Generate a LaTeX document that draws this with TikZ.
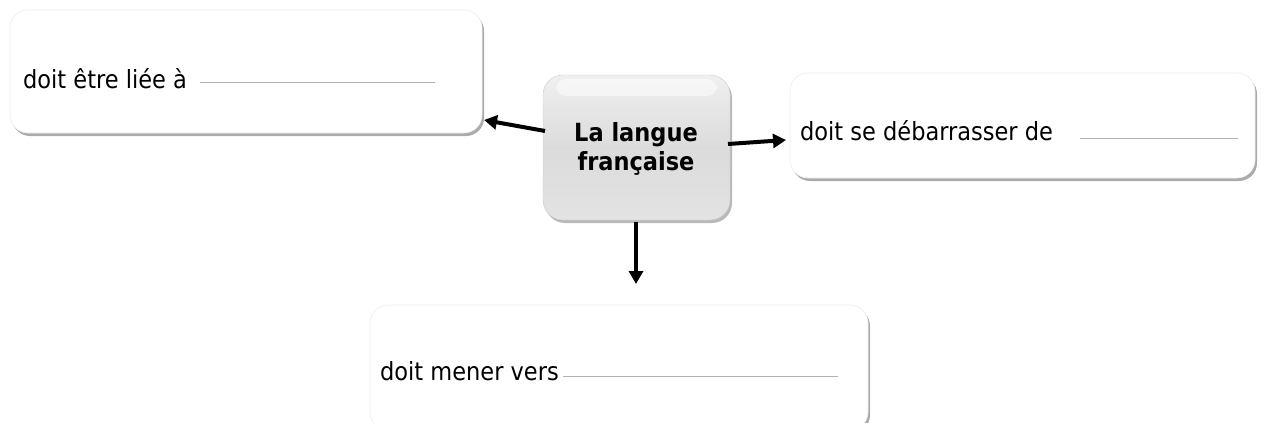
\documentclass[tikz,border=0pt]{standalone}
\usepackage{fontspec}
\setmainfont{DejaVu Sans Condensed}
\usetikzlibrary{shadows,arrows.meta}
\begin{document}
\begin{tikzpicture}[x=1pt,y=-1pt,
  wbox/.style={draw=gray!15, fill=white, rounded corners=18pt, line width=0.6pt,
     drop shadow={shadow xshift=2pt, shadow yshift=-3pt, fill=black!55, opacity=0.6}},
  blank/.style={draw=gray!60, line width=0.8pt},
  conn/.style={line width=4pt, -{Triangle[length=13pt,width=14pt]}},
  lbl/.style={anchor=base west, inner sep=0pt, font=\fontsize{25}{29}\selectfont}
]
\useasboundingbox (0,0) rectangle (1261,423);
% boxes
\node[wbox, minimum width=472pt, minimum height=123pt] (b1) at (246,71.5) {};
\node[wbox, minimum width=465pt, minimum height=105pt] (b2) at (1022.5,125.5) {};
\node[wbox, minimum width=498pt, minimum height=125pt] (b3) at (619,367.5) {};
% centre box
\node[draw=gray!40, rounded corners=20pt, minimum width=187pt, minimum height=145pt,
  top color=gray!12, bottom color=gray!22, middle color=gray!28,
  drop shadow={shadow xshift=2pt, shadow yshift=-3pt, fill=black!55, opacity=0.5}] (c) at (636.5,147.5) {};
\fill[white, opacity=0.55, rounded corners=10pt] (556,79) rectangle (717,96);
\node[font=\bfseries\fontsize{25}{29}\selectfont, align=center, inner sep=0pt] (ct) at (636,149) {La langue\\française};
% texts
\node[lbl] (t1) at (23,88) {doit être liée à};
\coordinate (l1a) at (200,82); \coordinate (l1b) at (435,82);
\draw[blank] (l1a) -- (l1b);
\node[lbl] (t2) at (800,140) {doit se débarrasser de};
\coordinate (l2a) at (1080,138); \coordinate (l2b) at (1238,138);
\draw[blank] (l2a) -- (l2b);
\node[lbl] (t3) at (380,380) {doit mener vers};
\coordinate (l3a) at (563,376); \coordinate (l3b) at (838,376);
\draw[blank] (l3a) -- (l3b);
% arrows
\coordinate (a1s) at (545,131); \coordinate (a1e) at (484,120);
\coordinate (a2s) at (728,144); \coordinate (a2e) at (786,140);
\coordinate (a3s) at (636,222); \coordinate (a3e) at (636,284);
\draw[conn] (a1s) -- (a1e);
\draw[conn] (a2s) -- (a2e);
\draw[conn] (a3s) -- (a3e);
\end{tikzpicture}
\end{document}
